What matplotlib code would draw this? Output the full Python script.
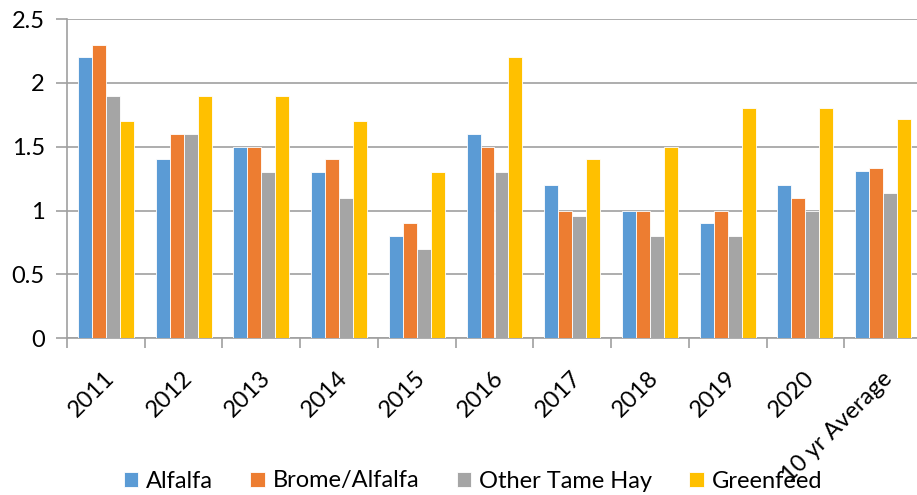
import matplotlib.pyplot as plt
import matplotlib.transforms as mtransforms
import numpy as np

plt.rcParams['font.family'] = ['Lato', 'DejaVu Sans']

years = ['2011', '2012', '2013', '2014', '2015', '2016', '2017', '2018', '2019', '2020', '10 yr Average']
alfalfa = [2.2, 1.4, 1.5, 1.3, 0.8, 1.6, 1.2, 1.0, 0.9, 1.2, 1.31]
brome = [2.3, 1.6, 1.5, 1.4, 0.9, 1.5, 1.0, 1.0, 1.0, 1.1, 1.33]
tame_hay = [1.9, 1.6, 1.3, 1.1, 0.7, 1.3, 0.96, 0.8, 0.8, 1.0, 1.14]
greenfeed = [1.7, 1.9, 1.9, 1.7, 1.3, 2.2, 1.4, 1.5, 1.8, 1.8, 1.72]

series = [('Alfalfa', alfalfa, '#5B9BD5'),
          ('Brome/Alfalfa', brome, '#ED7D31'),
          ('Other Tame Hay', tame_hay, '#A5A5A5'),
          ('Greenfeed', greenfeed, '#FFC000')]

W, H = 917, 495
fig = plt.figure(figsize=(W / 100, H / 100), dpi=100)
ax = fig.add_axes([67 / W, (H - 338.3) / H, (922 - 67) / W, (338.3 - 19) / H])

x = np.arange(len(years))
bw = 0.18
for i, (name, vals, col) in enumerate(series):
    ax.bar(x + (i - 1.5) * bw, vals, bw, color=col, label=name,
           edgecolor='white', linewidth=0.6, zorder=3)

ax.set_xlim(-0.5, len(years) - 0.5)
ax.set_ylim(0, 2.5)
ax.set_yticks(np.arange(0, 2.51, 0.5))
ax.set_yticklabels(['0', '0.5', '1', '1.5', '2', '2.5'])
ax.grid(axis='y', color='#A0A0A0', linewidth=1.2, zorder=0)

for s in ['top', 'right']:
    ax.spines[s].set_visible(False)
for s in ['left', 'bottom']:
    ax.spines[s].set_color('#A0A0A0')
    ax.spines[s].set_linewidth(1.2)

ax.tick_params(axis='y', length=8, color='#A0A0A0', width=1.2, labelsize=17, pad=8)
ax.set_xticks(np.arange(-0.5, len(years), 1))
ax.set_xticklabels([])
ax.tick_params(axis='x', which='major', length=7, color='#A0A0A0', width=1.2)
ax.set_xticks(x, minor=True)
ax.set_xticklabels(years, minor=True, rotation=45, ha='right', va='top',
                   rotation_mode='anchor', fontsize=17)
ax.tick_params(axis='x', which='minor', length=0, pad=21)
shift = mtransforms.ScaledTranslation(-2 / 100, 0, fig.dpi_scale_trans)
for lab in ax.get_xticklabels(minor=True):
    lab.set_transform(lab.get_transform() + shift)

fig.legend(loc='center', bbox_to_anchor=(473 / W, 1 - 481 / H), ncol=4,
           frameon=False, fontsize=17, handlelength=0.6, handleheight=0.6,
           handletextpad=0.35, columnspacing=1.58, borderpad=0)

fig.savefig('out.png', dpi=100)
